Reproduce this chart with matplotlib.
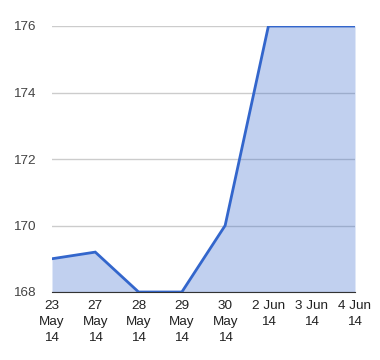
import matplotlib.pyplot as plt
import numpy as np

# data
dates = ["23\nMay\n14", "27\nMay\n14", "28\nMay\n14", "29\nMay\n14",
         "30\nMay\n14", "2 Jun\n14", "3 Jun\n14", "4 Jun\n14"]
values = [169, 169.2, 168, 168, 170, 176, 176, 176]
yticks = [168, 170, 172, 174, 176]

plt.rcParams['font.family'] = ['Liberation Sans', 'DejaVu Sans']

fig = plt.figure(figsize=(3.8, 3.6), dpi=100)
ax = fig.add_axes([52/380, 1 - 292/360, 303/380, 266/360])

x = np.arange(len(dates))
ax.fill_between(x, values, 168, color='#3366cc', alpha=0.3, linewidth=0, zorder=2)
ax.plot(x, values, color='#3366cc', linewidth=2, zorder=3, solid_joinstyle='miter')

ax.set_xlim(0, len(dates) - 1)
ax.set_ylim(168, 176)
ax.set_yticks(yticks)
ax.set_yticklabels([str(t) for t in yticks])
ax.set_xticks(x)
ax.set_xticklabels(dates, linespacing=1.4)

ax.grid(axis='y', color='#cccccc', linewidth=1, zorder=1)
for s in ['top', 'right', 'left']:
    ax.spines[s].set_visible(False)
ax.spines['bottom'].set_color('#333333')
ax.spines['bottom'].set_zorder(4)
ax.tick_params(axis='both', length=0, labelsize=9.7, labelcolor='#222222')
ax.tick_params(axis='y', pad=12, labelcolor='#444444')
ax.tick_params(axis='x', pad=6)

fig.savefig('out.png', dpi=100)
